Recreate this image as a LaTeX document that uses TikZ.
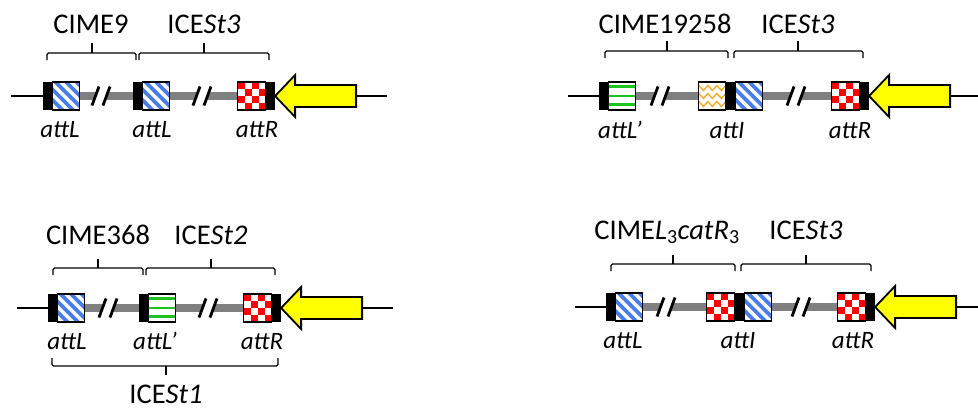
\documentclass[tikz,border=0pt]{standalone}
\usepackage{fontspec}
\setmainfont{Carlito}
\usetikzlibrary{decorations.pathmorphing,backgrounds}
\definecolor{stripeblue}{RGB}{70,125,235}
\definecolor{stripegreen}{RGB}{30,195,30}
\definecolor{stripeorange}{RGB}{255,170,40}
\definecolor{checkred}{RGB}{255,0,0}
\definecolor{bargray}{RGB}{128,128,128}
\definecolor{arrowyellow}{RGB}{255,255,0}
\begin{document}
\begin{tikzpicture}[x=1pt,y=-1pt,
  bar/.style={fill=black, minimum width=8.5pt, minimum height=28pt, inner sep=0pt, anchor=west},
  boxbase/.style={draw=black, line width=1.2pt, fill=white, minimum width=27pt, minimum height=28pt, inner sep=0pt, anchor=west},
  bluebox/.style={boxbase, path picture={
    \foreach \k in {-4,...,3}{\draw[stripeblue, line width=3.8pt] ([xshift={\k*10.5pt+3pt}]path picture bounding box.north west) -- ++(30pt,-30pt);}}},
  greenbox/.style={boxbase, path picture={
    \foreach \f in {4.5,14,22.5}{\draw[stripegreen, line width=2.4pt] ([yshift={-\f pt}]path picture bounding box.north west) -- ([yshift={-\f pt}]path picture bounding box.north east);}}},
  orangebox/.style={boxbase, path picture={
    \foreach \f in {6,14,22}{\draw[stripeorange, line width=1.4pt, decorate, decoration={zigzag, segment length=9pt, amplitude=2.5pt}] ([xshift=-2pt,yshift={-\f pt}]path picture bounding box.north west) -- ([xshift=4pt,yshift={-\f pt}]path picture bounding box.north east);}}},
  checkbox/.style={boxbase, minimum width=28pt, path picture={
    \foreach \i in {0,2}{\foreach \j in {0,2}{
      \fill[checkred] ([xshift={\i*7pt}, yshift={-\j*7pt}]path picture bounding box.north west) rectangle ++(7pt,-7pt);
      \fill[checkred] ([xshift={\i*7pt+7pt}, yshift={-\j*7pt-7pt}]path picture bounding box.north west) rectangle ++(7pt,-7pt);}}}},
  backbone/.style={line width=1.5pt, black},
  graybar/.style={line width=8pt, bargray},
  brc/.style={line width=1.3pt, rounded corners=1.5pt},
  ttl/.style={anchor=base, inner sep=0pt, font=\fontsize{28.5}{34}\selectfont},
  lab/.style={anchor=base, inner sep=0pt, font=\fontsize{25}{30}\selectfont\itshape},
  brk/.pic={
    \fill[white] (-7,4) -- (4,4) -- (7,-4) -- (-4,-4) -- cycle;
    \draw[line width=2.8pt] (-9,9.5) -- (-2,-9.5);
    \draw[line width=2.8pt] (2,9.5) -- (9,-9.5);},
  yarrow/.pic={
    \draw[fill=arrowyellow, line width=1.8pt, line join=miter] (0,0) -- (20,-21) -- (20,-11) -- (81,-11) -- (81,11) -- (20,11) -- (20,21) -- cycle;}
]
\useasboundingbox (0,0) rectangle (978,408);

% ---------------- Panel 1 ----------------
\coordinate (s1) at (11,96);
\coordinate (e1) at (387,96);
\node[bar] (p1b1) at (43,96) {};
\node[bluebox] (p1x1) at (p1b1.east) {};
\node[bar] (p1b2) at (133,96) {};
\node[bluebox] (p1x2) at (p1b2.east) {};
\node[checkbox] (p1x3) at (237,96) {};
\node[bar] (p1b3) at (p1x3.east) {};
\begin{scope}[on background layer]
  \draw[backbone] (s1) -- (e1);
  \draw[graybar] (p1x1.east) -- (p1b2.west);
  \draw[graybar] (p1x2.east) -- (p1x3.west);
  \pic at (101,96) {brk};
  \pic at (202,96) {brk};
\end{scope}
\pic at (p1b3.east) {yarrow};
\draw[brc] (47,60) -- (47,53) -- (136,53) -- (136,60);
\draw[brc] (92,53) -- (92,43);
\draw[brc] (139,60) -- (139,53) -- (269,53) -- (269,60);
\draw[brc] (204,53) -- (204,43);
\node[ttl] (t1a) at (91,33) {CIME9};
\node[ttl] (t1b) at (204,33) {ICE\textit{St3}};
\node[lab] (l1a) at (60,137) {attL};
\node[lab] (l1b) at (152,137) {attL};
\node[lab] (l1c) at (257,137) {attR};

% ---------------- Panel 2 ----------------
\coordinate (s2) at (568,96);
\coordinate (e2) at (978,96);
\node[bar] (p2b1) at (599,96) {};
\node[greenbox] (p2x1) at (p2b1.east) {};
\node[orangebox] (p2x2) at (698,96) {};
\node[bar] (p2b2) at (p2x2.east) {};
\node[bluebox] (p2x3) at (p2b2.east) {};
\node[checkbox] (p2x4) at (831,96) {};
\node[bar] (p2b3) at (p2x4.east) {};
\begin{scope}[on background layer]
  \draw[backbone] (s2) -- (e2);
  \draw[graybar] (p2x1.east) -- (p2x2.west);
  \draw[graybar] (p2x3.east) -- (p2x4.west);
  \pic at (660,96) {brk};
  \pic at (796,96) {brk};
\end{scope}
\pic at (p2b3.east) {yarrow};
\draw[brc] (605,58) -- (605,51) -- (728,51) -- (728,58);
\draw[brc] (667,51) -- (667,41);
\draw[brc] (734,58) -- (734,51) -- (863,51) -- (863,58);
\draw[brc] (798,51) -- (798,41);
\node[ttl] (t2a) at (665,33) {CIME19258};
\node[ttl] (t2b) at (798,33) {ICE\textit{St3}};
\node[lab] (l2a) at (620,138) {attL’};
\node[lab] (l2b) at (727,138) {attI};
\node[lab] (l2c) at (850,138) {attR};

% ---------------- Panel 3 ----------------
\coordinate (s3) at (17,308);
\coordinate (e3) at (393,308);
\node[bar] (p3b1) at (48,308) {};
\node[bluebox] (p3x1) at (p3b1.east) {};
\node[bar] (p3b2) at (139,308) {};
\node[greenbox] (p3x2) at (p3b2.east) {};
\node[checkbox] (p3x3) at (243,308) {};
\node[bar] (p3b3) at (p3x3.east) {};
\begin{scope}[on background layer]
  \draw[backbone] (s3) -- (e3);
  \draw[graybar] (p3x1.east) -- (p3b2.west);
  \draw[graybar] (p3x2.east) -- (p3x3.west);
  \pic at (108,308) {brk};
  \pic at (208,308) {brk};
\end{scope}
\pic at (p3b3.east) {yarrow};
\draw[brc] (53,275) -- (53,268) -- (143,268) -- (143,275);
\draw[brc] (98,268) -- (98,259);
\draw[brc] (146,275) -- (146,268) -- (275,268) -- (275,275);
\draw[brc] (211,268) -- (211,259);
\node[ttl] (t3a) at (98,244) {CIME368};
\node[ttl] (t3b) at (211,244) {ICE\textit{St2}};
\node[lab] (l3a) at (67,349) {attL};
\node[lab] (l3b) at (155,349) {attL’};
\node[lab] (l3c) at (262,349) {attR};
\draw[brc] (52,358) -- (52,366) -- (278,366) -- (278,358);
\draw[brc] (166,366) -- (166,375);
\node[ttl] (t3c) at (166,403) {ICE\textit{St1}};

% ---------------- Panel 4 ----------------
\coordinate (s4) at (575,307);
\coordinate (e4) at (978,307);
\node[bar] (p4b1) at (606,307) {};
\node[bluebox] (p4x1) at (p4b1.east) {};
\node[checkbox] (p4x2) at (706,307) {};
\node[bar] (p4b2) at (p4x2.east) {};
\node[bluebox] (p4x3) at (p4b2.east) {};
\node[checkbox] (p4x4) at (837,307) {};
\node[bar] (p4b3) at (p4x4.east) {};
\begin{scope}[on background layer]
  \draw[backbone] (s4) -- (e4);
  \draw[graybar] (p4x1.east) -- (p4x2.west);
  \draw[graybar] (p4x3.east) -- (p4x4.west);
  \pic at (666,307) {brk};
  \pic at (801,307) {brk};
\end{scope}
\pic at (p4b3.east) {yarrow};
\draw[brc] (611,271) -- (611,264) -- (735,264) -- (735,271);
\draw[brc] (673,264) -- (673,255);
\draw[brc] (741,271) -- (741,264) -- (871,264) -- (871,271);
\draw[brc] (806,264) -- (806,255);
\node[ttl] (t4a) at (667,239) {CIME\textit{L}\textsubscript{3}\textit{catR}\textsubscript{3}};
\node[ttl] (t4b) at (806,239) {ICE\textit{St3}};
\node[lab] (l4a) at (623,348) {attL};
\node[lab] (l4b) at (738,348) {attI};
\node[lab] (l4c) at (853,348) {attR};
\end{tikzpicture}
\end{document}
